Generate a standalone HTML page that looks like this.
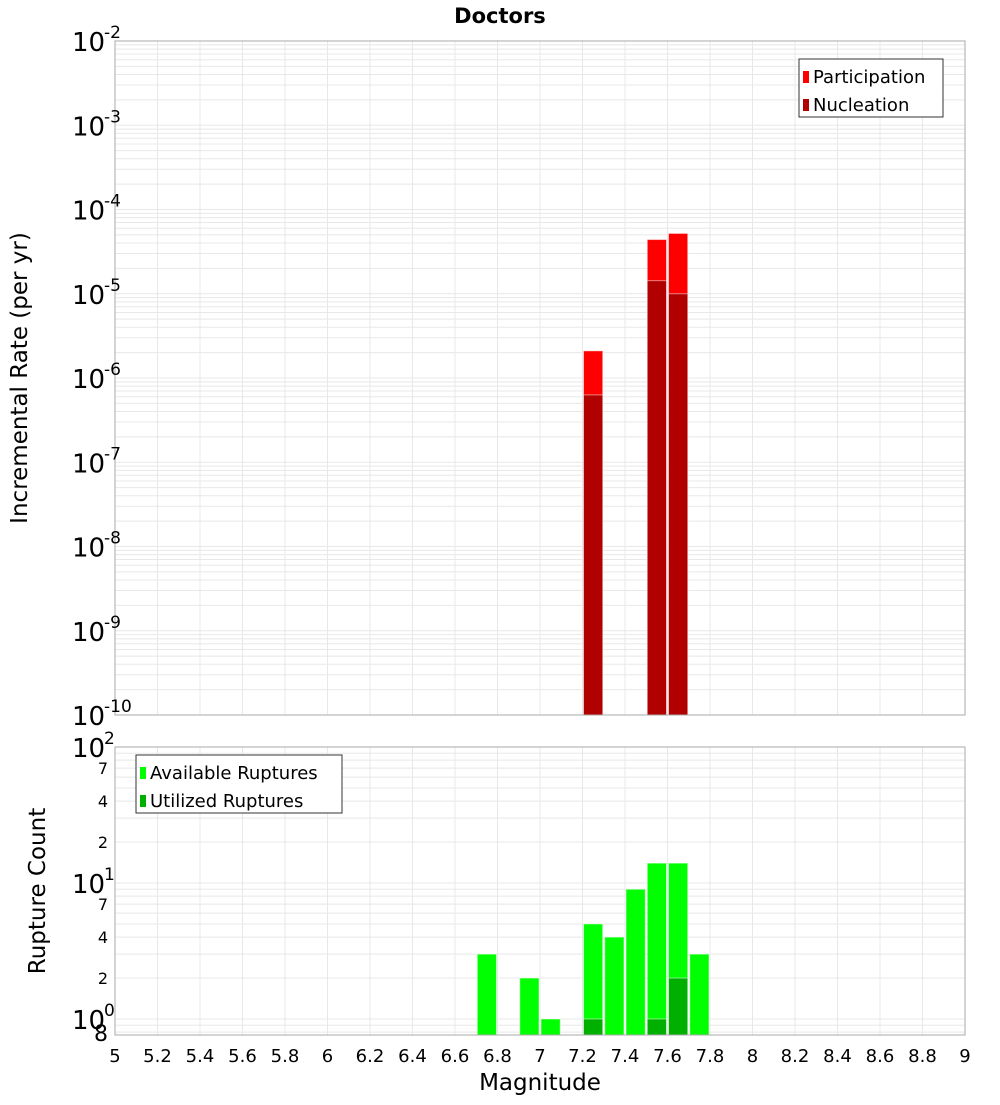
<!DOCTYPE html>
<html><head><meta charset="utf-8"><style>
body{margin:0;background:#fff;}
svg text{font-family:"DejaVu Sans","Liberation Sans",sans-serif;fill:#000;}
</style></head><body>
<svg id="chart" width="1000" height="1100" xmlns="http://www.w3.org/2000/svg">
<text x="500" y="23" text-anchor="middle" font-size="21" font-weight="bold">Doctors</text>
<g id="topPlot"></g>
<g id="botPlot"></g>
<text transform="translate(27,378) rotate(-90)" text-anchor="middle" font-size="23">Incremental Rate (per yr)</text>
<text transform="translate(45,891) rotate(-90)" text-anchor="middle" font-size="23">Rupture Count</text>
<text x="540" y="1090" text-anchor="middle" font-size="23">Magnitude</text>
</svg>
<script>
const mags = [7.25, 7.55, 7.65];
const participation = [2.1e-6, 4.4e-5, 5.2e-5];
const nucleation = [6.3e-7, 1.43e-5, 1.0e-5];
const cntMags = [6.75, 6.95, 7.05, 7.25, 7.35, 7.45, 7.55, 7.65, 7.75];
const available = [3, 2, 1, 5, 4, 9, 14, 14, 3];
const utilMags = [7.25, 7.55, 7.65];
const utilized = [1, 1, 2];
const xTicks = [5,5.2,5.4,5.6,5.8,6,6.2,6.4,6.6,6.8,7,7.2,7.4,7.6,7.8,8,8.2,8.4,8.6,8.8,9];

const NS='http://www.w3.org/2000/svg';
const L=115,R=965;
const X=m=>L+(m-5)/4*(R-L);
const T0=41,T1=715; const YT=v=>T0+(-2-Math.log10(v))/8*(T1-T0);
const B0=747,B1=1035; const YB=v=>B0+(2-Math.log10(v))*136;
function el(p,tag,a){const e=document.createElementNS(NS,tag);for(const k in a)e.setAttribute(k,a[k]);p.appendChild(e);return e;}
const topG=document.getElementById('topPlot'), botG=document.getElementById('botPlot');

function grid(g,y0,y1,Y,dmin,dmax,vmin){
  for(const m of xTicks){const l=el(g,'line',{x1:X(m),x2:X(m),y1:y0,y2:y1,stroke:'#e8e8e8'});
    
    }
  for(let d=dmin;d<dmax;d++)for(let k=1;k<10;k++){const v=k*Math.pow(10,d);if(v<vmin)continue;const y=Y(v);if(y>y1||y<y0)continue;
    const l=el(g,'line',{x1:L,x2:R,y1:y,y2:y,stroke:'#e8e8e8'});
    
    }
}
grid(topG,T0,T1,YT,-10,-2,0);
grid(botG,B0,B1,YB,-1,2,0.78);

function bar(g,m,v,Y,base,fill,name){const y=Y(v);const r=el(g,'rect',{x:X(m-0.05)+1,y:y,width:X(5.1)-X(5)-2,height:base-y,fill:fill,stroke:'rgba(255,255,255,0.5)','stroke-width':1});
  
  }
participation.forEach((v,i)=>bar(topG,mags[i],v,YT,T1,'#ff0000','participation-bar'));
nucleation.forEach((v,i)=>bar(topG,mags[i],v,YT,T1,'#b00000','nucleation-bar'));
available.forEach((v,i)=>bar(botG,cntMags[i],v,YB,B1,'#00ff00','available-bar'));
utilized.forEach((v,i)=>bar(botG,utilMags[i],v,YB,B1,'#00b000','utilized-bar'));

[[topG,T0,T1],[botG,B0,B1]].forEach(([g,a,b])=>{const r=el(g,'rect',{x:L,y:a,width:R-L,height:b-a,fill:'none',stroke:'#aaa'});
  
  });

xTicks.forEach(m=>{const t=el(botG,'text',{x:X(m),y:1062,'text-anchor':'middle','font-size':18});t.textContent=String(m);
  
  });

function pow(g,y,e,name){const t=el(g,'text',{x:72,y:y+10,'font-size':26});t.textContent='10';
  
  
  const s=el(g,'text',{x:104,y:y-3,'font-size':17,'text-anchor':'start'});s.textContent=e;
  
  }
for(let d=-2;d>=-10;d--)pow(topG,YT(Math.pow(10,d)),String(d),'y-tick-label');
[0,1,2].forEach(d=>pow(botG,YB(Math.pow(10,d)),String(d),'y-tick-label-bottom'));
[[7,'7'],[4,'4'],[2,'2'],[70,'7'],[40,'4'],[20,'2'],[0.8,'8']].forEach(([v,s])=>{const y=YB(v);const t=el(botG,'text',{x:108,y:y+(v===0.8?9:6),'font-size':v===0.8?22:16,'text-anchor':'end'});t.textContent=s;
  
  });

function legend(g,x,y,w,items,name){const gg=el(g,'g',{});
  
  
  el(gg,'rect',{x:x,y:y,width:w,height:58,fill:'#fff',stroke:'#333'});
  items.forEach(([c,lab],i)=>{const yy=y+18+i*28;el(gg,'rect',{x:x+4,y:yy-6,width:6,height:12,fill:c});
    const t=el(gg,'text',{x:x+14,y:yy+6,'font-size':18});t.textContent=lab;
    
    });}
legend(topG,799,59,144,[['#ff0000','Participation'],['#b00000','Nucleation']],'legend-top');
legend(botG,136,755,206,[['#00ff00','Available Ruptures'],['#00b000','Utilized Ruptures']],'legend-bottom');
</script>
</body></html>
